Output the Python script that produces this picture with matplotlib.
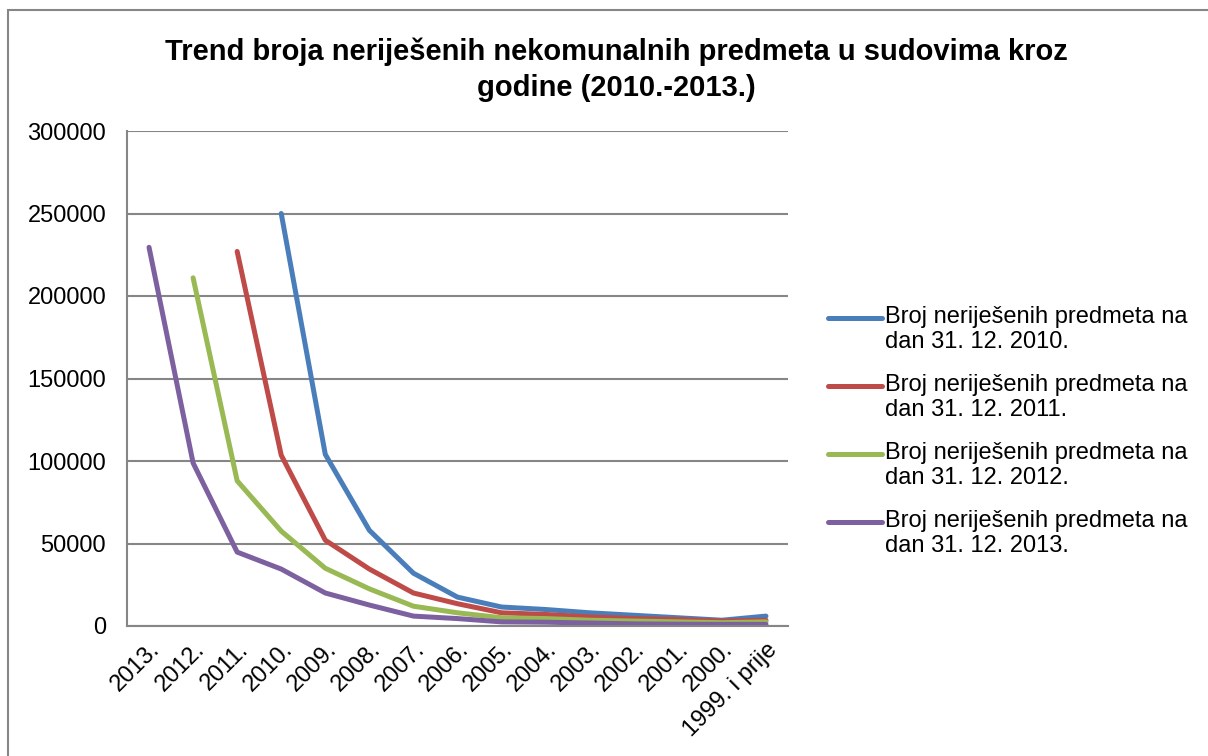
import numpy as np
import matplotlib.pyplot as plt
from matplotlib.lines import Line2D
from matplotlib.patches import Rectangle

plt.rcParams['font.family'] = ['Liberation Sans', 'DejaVu Sans']

# categories (years, newest first)
years = ["2013.", "2012.", "2011.", "2010.", "2009.", "2008.", "2007.", "2006.",
         "2005.", "2004.", "2003.", "2002.", "2001.", "2000.", "1999. i prije"]

# unresolved cases per year of filing, as counted on each date (None = not yet)
s2010 = [None, None, None, 250000, 104000, 58000, 32000, 17500, 11500, 10000,
         8000, 6500, 5000, 3500, 6000]
s2011 = [None, None, 227000, 103500, 52000, 34500, 20000, 13500, 8000, 7000,
         5500, 4500, 4000, 3000, 3500]
s2012 = [None, 211000, 88000, 57500, 35000, 22500, 12000, 8000, 5000, 4500,
         3500, 3000, 2500, 2000, 2500]
s2013 = [229500, 98800, 44800, 34500, 20000, 12700, 6000, 4500, 2500, 2300,
         1800, 1300, 1100, 1000, 1000]

labels = ["Broj neriješenih predmeta na\ndan 31. 12. 2010.",
          "Broj neriješenih predmeta na\ndan 31. 12. 2011.",
          "Broj neriješenih predmeta na\ndan 31. 12. 2012.",
          "Broj neriješenih predmeta na\ndan 31. 12. 2013."]
colors = ["#4A7EBB", "#BE4B48", "#98B954", "#7D60A0"]

W, H = 1208, 756
fig = plt.figure(figsize=(W / 100, H / 100), dpi=100)
ax = fig.add_axes([127 / W, 1 - 626 / H, 661 / W, 495 / H])

x = np.arange(len(years))
for vals, col in zip([s2010, s2011, s2012, s2013], colors):
    y = np.array([np.nan if v is None else v for v in vals], dtype=float)
    ax.plot(x, y, color=col, lw=3.6, solid_capstyle="round",
            solid_joinstyle="round")

ax.set_xlim(-0.5, len(years) - 0.5)
ax.set_ylim(0, 300000)
ax.set_yticks(np.arange(0, 300001, 50000))
ax.set_xticks(x)
ax.set_xticklabels(years, rotation=45, ha="right", rotation_mode="anchor")
ax.tick_params(axis="both", length=0, labelsize=17)
ax.tick_params(axis="x", pad=9)
ax.tick_params(axis="y", pad=15)
ax.grid(axis="y", color="#868686", lw=1.5)
ax.set_axisbelow(True)
for side in ["top", "right"]:
    ax.spines[side].set_visible(False)
for side in ["left", "bottom"]:
    ax.spines[side].set_color("#868686")
    ax.spines[side].set_linewidth(1.5)

fig.text(616 / W, 1 - 37 / H,
         "Trend broja neriješenih nekomunalnih predmeta u sudovima kroz\ngodine (2010.-2013.)",
         ha="center", va="top", fontsize=21, fontweight="bold", linespacing=1.38)

# legend: handle sits beside the first line of each two-line label
for i, (lab, col) in enumerate(zip(labels, colors)):
    ypos = 1 - (318 + 68 * i) / H
    fig.add_artist(Line2D([828 / W, 882 / W], [ypos, ypos], color=col, lw=3.6,
                          solid_capstyle="round", transform=fig.transFigure))
    fig.text(885 / W, ypos + 12 / H, lab, ha="left", va="top", fontsize=17,
             linespacing=1.15)

# outer chart frame
fig.patches.append(Rectangle((8 / W, -0.1), 1.2, 1 - 10 / H + 0.1,
                             transform=fig.transFigure, fill=False,
                             edgecolor="#868686", lw=1.5))

fig.savefig("out.png", dpi=100)
